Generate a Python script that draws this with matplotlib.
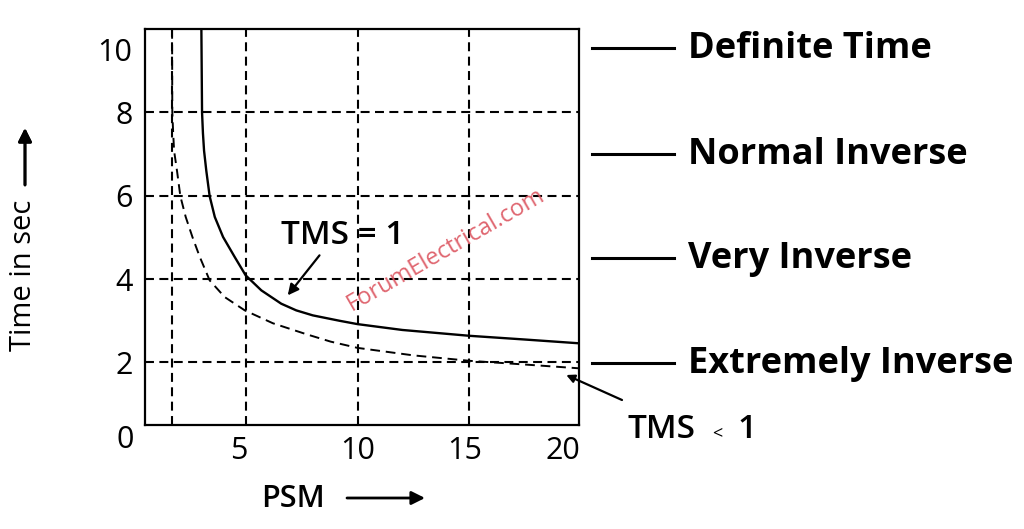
import matplotlib.pyplot as plt
from matplotlib.lines import Line2D

plt.rcParams['font.family'] = ['Open Sans', 'DejaVu Sans']

# curve readings (PSM, time in sec)
tms1_psm = [3.02, 3.05, 3.09, 3.14, 3.24, 3.39, 3.62, 3.99, 4.51, 5.0, 5.7, 6.59,
            7.26, 8.0, 9.2, 10.0, 12.0, 15.0, 17.5, 19.9]
tms1_time = [10.0, 8.0, 7.5, 7.08, 6.6, 5.99, 5.49, 5.01, 4.53, 4.09, 3.73, 3.41,
             3.25, 3.13, 3.0, 2.92, 2.78, 2.64, 2.55, 2.46]

tms_low_psm = [1.71, 1.72, 1.76, 1.8, 1.93, 2.08, 2.32, 2.62, 2.95, 3.39, 4.06, 4.96,
               6.22, 7.7, 8.8, 10.0, 12.5, 15.0, 17.5, 19.9]
tms_low_time = [10.0, 8.0, 7.5, 7.08, 6.6, 5.99, 5.49, 5.01, 4.53, 3.97, 3.57, 3.25,
                2.94, 2.68, 2.5, 2.35, 2.17, 2.04, 1.95, 1.86]

grid_x = [1.7, 5, 10, 15]
grid_y = [2, 4, 6, 8]

xtick_pos = [4.7, 10, 14.8, 19.2]
xtick_labels = ['5', '10', '15', '20']
ytick_pos = [2, 4, 6, 8, 9.5]
ytick_labels = ['2', '4', '6', '8', '10']

relay_types = ['Definite Time', 'Normal Inverse', 'Very Inverse', 'Extremely Inverse']

W, H = 1024, 529
fig = plt.figure(figsize=(W / 100, H / 100), dpi=100)
ax = fig.add_axes([145 / W, 1 - 425 / H, 434 / W, 396 / H])
ax.set_xlim(0.5, 19.9)
ax.set_ylim(0.5, 10)

dash = (0, (4.3, 2.6))
for gx in grid_x:
    ax.axvline(gx, color='black', lw=1.5, ls=dash, zorder=1)
for gy in grid_y:
    ax.axhline(gy, color='black', lw=1.5, ls=dash, zorder=1)

ax.plot(tms1_psm, tms1_time, color='black', lw=1.7, zorder=3)
ax.plot(tms_low_psm, tms_low_time, color='black', lw=1.4, ls=(0, (5, 3)), zorder=3)

for s in ax.spines.values():
    s.set_linewidth(1.6)

ax.set_xticks(xtick_pos, xtick_labels)
ax.set_yticks(ytick_pos, ytick_labels)
ax.tick_params(length=0, labelsize=22)
ax.tick_params(axis='x', pad=8)
ax.tick_params(axis='y', pad=9)
ax.text(-0.046, -0.037, '0', transform=ax.transAxes, fontsize=22,
        ha='center', va='center')

# TMS = 1 label and arrow
ax.text(9.33, 5.05, 'TMS = 1', fontsize=24, fontweight='semibold',
        ha='center', va='center')
ax.annotate('', xy=(6.88, 3.61), xytext=(8.3, 4.57),
            arrowprops=dict(arrowstyle='-|>', color='black', lw=1.6,
                            mutation_scale=16, shrinkA=0, shrinkB=0))

# TMS < 1 label and arrow
ax.annotate('', xy=(19.33, 1.70), xytext=(622, H - 400), textcoords='figure pixels',
            annotation_clip=False,
            arrowprops=dict(arrowstyle='-|>', color='black', lw=1.6,
                            mutation_scale=12, shrinkA=0, shrinkB=0))
fig.text(627 / W, 1 - 438 / H, 'TMS', fontsize=24, fontweight='semibold', va='baseline')
fig.text(712 / W, 1 - 438 / H, '<', fontsize=13, va='baseline')
fig.text(738 / W, 1 - 438 / H, '1', fontsize=24, fontweight='semibold', va='baseline')

# watermark
ax.text(446 / W, 1 - 250 / H, 'ForumElectrical.com', transform=fig.transFigure,
        fontsize=17, color='#dc5560', alpha=0.9, rotation=30,
        ha='center', va='center', rotation_mode='anchor', zorder=4)

# right-hand legend of relay types
line_y = [48, 154, 258, 363]
for name, ly in zip(relay_types, line_y):
    fig.add_artist(Line2D([592 / W, 674 / W], [1 - ly / H, 1 - ly / H],
                          color='black', lw=2.2))
    fig.text(688 / W, 1 - (ly + 10) / H, name, fontsize=26, fontweight='bold',
             va='baseline', ha='left')

# axis labels with arrows
fig.text(24 / W, 1 - 275 / H, 'Time in sec', fontsize=21, rotation=90,
         ha='center', va='center')
fig.add_artist(plt.annotate('', xy=(25, H - 128), xytext=(25, H - 185),
                            xycoords='figure pixels', textcoords='figure pixels',
                            arrowprops=dict(arrowstyle='-|>', color='black', lw=2,
                                            mutation_scale=20, shrinkA=0, shrinkB=0)))
fig.text(293 / W, 1 - 499 / H, 'PSM', fontsize=22, fontweight='semibold',
         ha='center', va='center')
ax.annotate('', xy=(425, H - 498), xytext=(347, H - 498),
            xycoords='figure pixels', textcoords='figure pixels',
            annotation_clip=False,
            arrowprops=dict(arrowstyle='-|>', color='black', lw=2,
                            mutation_scale=20, shrinkA=0, shrinkB=0))

fig.savefig('out.png', dpi=100)
